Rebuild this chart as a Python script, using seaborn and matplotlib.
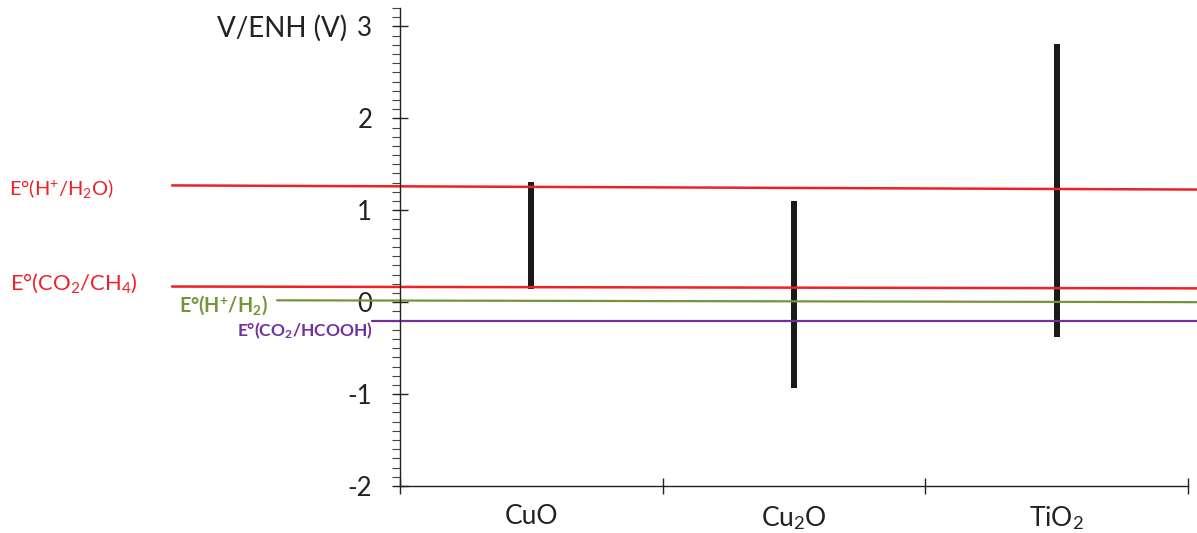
import pandas as pd
import seaborn as sns
from matplotlib import pyplot as plt
from matplotlib.ticker import MultipleLocator

# band edges of each semiconductor (V vs ENH)
materials = ["CuO", "Cu$_2$O", "TiO$_2$"]
band_top = [1.31, 1.10, 2.81]
band_bottom = [0.14, -0.93, -0.38]

# redox potentials, value at the left end and right end of the drawn line
couples = ["E°(H$^{+}$/H$_2$O)", "E°(CO$_2$/CH$_4$)", "E°(H$^{\\mathbf{+}}$/H$_{\\mathbf{2}}$)", "E°(CO$_{\\mathbf{2}}$/HCOOH)"]
level_left = [1.27, 0.17, 0.02, -0.20]
level_right = [1.225, 0.15, 0.0, -0.20]

sns.set_theme(style="white")
plt.rcParams['font.family'] = ['Lato', 'DejaVu Sans']
plt.rcParams['mathtext.fontset'] = 'custom'
plt.rcParams['mathtext.rm'] = 'Lato'
plt.rcParams['mathtext.bf'] = 'Lato:bold'
plt.rcParams['mathtext.it'] = 'Lato:italic'
plt.rcParams['axes.unicode_minus'] = False

dataframe = pd.DataFrame({
    "Material": materials,
    "Span": [t - b for t, b in zip(band_top, band_bottom)],
})

fig = plt.figure(figsize=(11.97, 5.33), dpi=100)
ax = fig.add_axes([400 / 1197, 47 / 533, 788 / 1197, 478 / 533])

sns.barplot(data=dataframe, x="Material", y="Span", bottom=band_bottom, ax=ax,
            color="#1a1a1a", width=0.022, saturation=1, linewidth=0)

line_colors = ["#ee2127", "#ee2127", "#77933c", "#7030a0"]
line_widths = [1.8, 1.8, 1.6, 1.6]
line_start = [-1.368, -1.368, -0.968, -0.607]
line_end = 2.534
for i in range(len(couples)):
    ax.plot([line_start[i], line_end], [level_left[i], level_right[i]],
            color=line_colors[i], lw=line_widths[i], clip_on=False, zorder=1)

# labels of the redox couples, left of the axis
fig.text(9 / 1197, 1 - 188 / 533, couples[0], color=line_colors[0], fontsize=14.4, va="center")
fig.text(10 / 1197, 1 - 283 / 533, couples[1], color=line_colors[1], fontsize=15.8, va="center")
fig.text(179 / 1197, 1 - 305 / 533, couples[2], color=line_colors[2], fontsize=14.2,
         fontweight="bold", va="center")
fig.text(237 / 1197, 1 - 331 / 533, couples[3], color=line_colors[3], fontsize=12.5,
         fontweight="bold", va="center")

ax.set_xlim(-0.5, 2.5)
ax.set_ylim(-2, 3.2)
ax.set_xticks([-0.5, 0.5, 1.5, 2.5])
ax.set_xticklabels([])
ax.set_xticks([0, 1, 2], minor=True)
ax.set_xticklabels(materials, minor=True, fontsize=19, color="#222222")
ax.tick_params(axis="x", which="major", direction="inout", length=12, width=1, color="#222222", bottom=True)
ax.tick_params(axis="x", which="minor", length=0, pad=13)

ax.set_yticks([-2, -1, 0, 1, 2, 3])
ax.yaxis.set_minor_locator(MultipleLocator(0.1))
ax.tick_params(axis="y", which="major", direction="inout", length=12, width=1,
               color="#222222", labelsize=18.5, labelcolor="#222222", left=True, pad=14)
ax.tick_params(axis="y", which="minor", direction="out", length=6, width=0.8,
               color="#444444", left=True)
ax.set_xlabel("")
ax.set_ylabel("")
fig.text(217 / 1197, 1 - 28 / 533, "V/ENH (V)", fontsize=20, color="#222222", va="center")

for side in ["top", "right"]:
    ax.spines[side].set_visible(False)
for side in ["left", "bottom"]:
    ax.spines[side].set_color("#222222")
    ax.spines[side].set_linewidth(1)
ax.set_facecolor("none")

fig.savefig("out.png", dpi=100)
